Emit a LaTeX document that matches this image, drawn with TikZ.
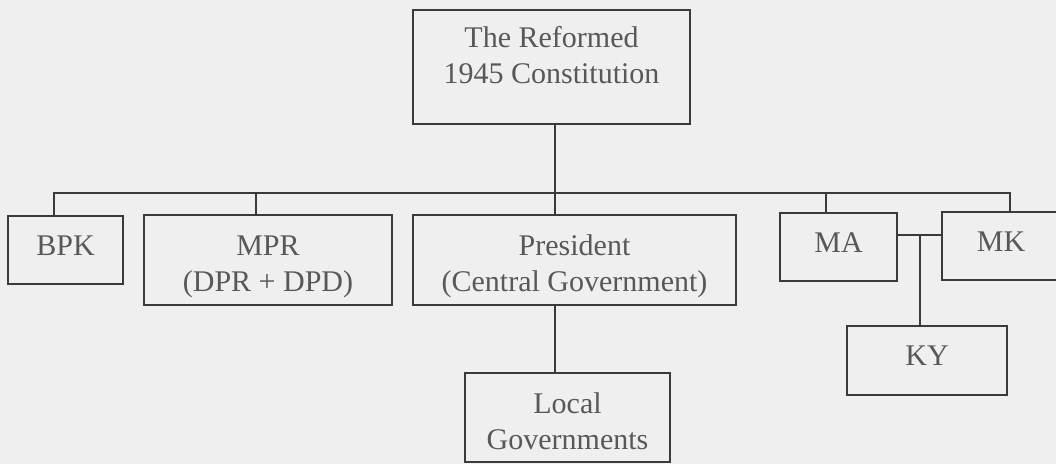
\documentclass[tikz,border=0pt]{standalone}
\usepackage{fontspec}
\setmainfont{Liberation Serif}
\usepackage{tikz}
\definecolor{scanpaper}{HTML}{EFEFEF}
\definecolor{scanink}{HTML}{3A3A3A}
\definecolor{scantext}{HTML}{585858}

\begin{document}
\begin{tikzpicture}[x=1pt,y=-1pt,
  orgbox/.style={draw=scanink,line width=1.8pt,fill=scanpaper,text=scantext,
    align=center,inner sep=0pt,font=\fontsize{30}{36}\selectfont},
  onebox/.style={orgbox,text height=20pt,text depth=10pt},
  twobox/.style={orgbox,text height=63pt,text depth=0pt},
  orgline/.style={draw=scanink,line width=1.8pt}]
\useasboundingbox (0,0) rectangle (1056,464);
\clip (0,0) rectangle (1056,464);
\fill[color=scanpaper] (0,0) rectangle (1056,464);
% Drawing boxes
\node[orgbox,text height=57pt,text depth=25pt,minimum width=277pt,minimum height=114pt] (const) at (551.5,67) {The Reformed\\1945 Constitution};
\node[onebox,minimum width=115pt,minimum height=68pt] (bpk) at (65.5,250) {BPK};
\node[twobox,minimum width=248pt,minimum height=90pt] (mpr) at (268,260) {MPR\\(DPR + DPD)};
\node[twobox,minimum width=323pt,minimum height=90pt] (pres) at (574.5,260) {President\\(Central Government)};
\node[onebox,minimum width=117pt,minimum height=68pt] (ma) at (838.5,247) {MA};
\node[onebox,minimum width=118pt,minimum height=68pt] (mk) at (1001,246) {MK};
\node[onebox,minimum width=160pt,minimum height=69pt] (ky) at (927,360.5) {KY};
\node[twobox,minimum width=205pt,minimum height=89pt] (local) at (567.5,417.5) {Local\\Governments};
% Done with boxes; drawing lines
\coordinate (trunk) at (555,193);
\coordinate (busL) at (54,193);
\coordinate (busR) at (1010,193);
\coordinate (mprtap) at (256,193);
\coordinate (matap) at (826,193);
\coordinate (kyjoin) at (920,235);
% Line 1: bus over the second row
\draw[orgline] (bpk.north -| busL) |- (busR) -- (busR |- mk.north);
\draw[orgline] (mprtap) -- (mprtap |- mpr.north);
\draw[orgline] (matap) -- (matap |- ma.north);
% Line 2: constitution to president to local governments
\draw[orgline] (trunk |- const.south) -- (trunk |- pres.north);
\draw[orgline] (trunk |- pres.south) -- (trunk |- local.north);
% Line 3: MA -- MK and KY
\draw[orgline] (kyjoin -| ma.east) -- (kyjoin -| mk.west);
\draw[orgline] (kyjoin) -- (kyjoin |- ky.north);
% Done with lines
\end{tikzpicture}
\end{document}
